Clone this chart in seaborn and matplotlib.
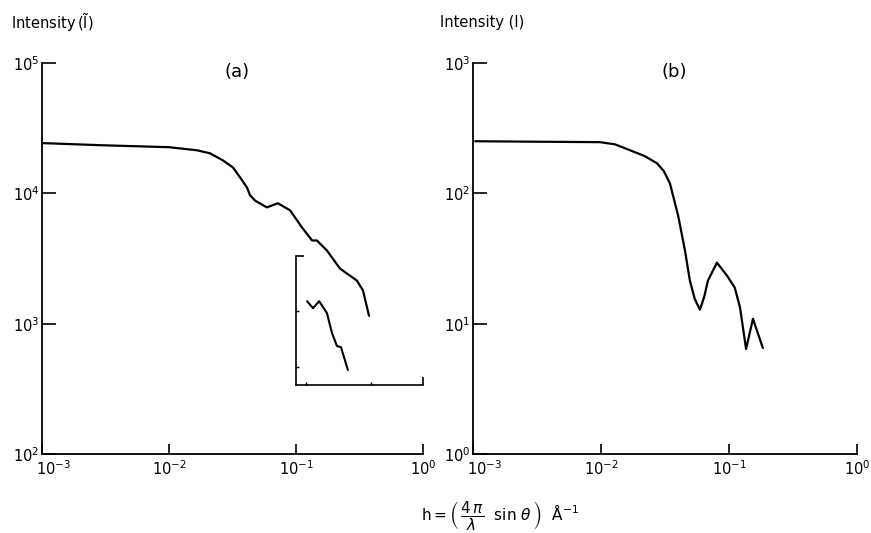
import matplotlib
matplotlib.use("Agg")
import matplotlib.pyplot as plt
import matplotlib.ticker as mticker
import matplotlib.transforms as mtransforms
import pandas as pd
import seaborn as sns

# Panel (a): Intensity (I tilde) vs h
h_a = [1.0e-3, 2.9e-3, 1.0e-2, 1.66e-2, 2.1e-2, 2.66e-2, 3.19e-2, 3.62e-2,
       4.11e-2, 4.34e-2, 4.76e-2, 5.9e-2, 7.2e-2, 9.0e-2, 0.1115, 0.134,
       0.146, 0.175, 0.222, 0.302, 0.337, 0.376]
i_a = [2.43e4, 2.34e4, 2.26e4, 2.14e4, 2.03e4, 1.79e4, 1.58e4, 1.33e4,
       1.11e4, 9.7e3, 8.8e3, 7.8e3, 8.4e3, 7.4e3, 5.47e3, 4.35e3,
       4.35e3, 3.65e3, 2.65e3, 2.14e3, 1.80e3, 1.15e3]

# inset of panel (a) (own log axes: x 0.1..1, y 1..10)
h_in = [0.122, 0.136, 0.152, 0.175, 0.192, 0.210, 0.226, 0.256]
i_in = [4.48, 3.95, 4.48, 3.62, 2.53, 2.01, 1.97, 1.31]

# Panel (b): Intensity (I) vs h
h_b = [1.04e-3, 3.0e-3, 9.8e-3, 1.28e-2, 1.69e-2, 2.2e-2, 2.74e-2, 3.1e-2,
       3.46e-2, 4.0e-2, 4.53e-2, 4.95e-2, 5.4e-2, 5.93e-2, 6.4e-2, 6.85e-2,
       8.05e-2, 9.64e-2, 0.111, 0.122, 0.136, 0.154, 0.184]
i_b = [251, 249, 247, 238, 214, 193, 170, 148,
       119, 68, 36.5, 21.4, 15.5, 12.8, 16.0, 21.4,
       29.4, 23.4, 18.9, 13.3, 6.4, 10.9, 6.5]

x_decades = [1e-3, 1e-2, 1e-1, 1e0]
y_decades_a = [1e2, 1e3, 1e4, 1e5]
y_decades_b = [1e0, 1e1, 1e2, 1e3]

sns.set_theme(style="white")
plt.rcParams["font.family"] = ["DejaVu Sans"]
plt.rcParams["mathtext.fontset"] = "dejavusans"
plt.rcParams["text.color"] = "black"

df_a = pd.DataFrame({"h": h_a, "I": i_a})
df_in = pd.DataFrame({"h": h_in, "I": i_in})
df_b = pd.DataFrame({"h": h_b, "I": i_b})

fig = plt.figure(figsize=(8.71, 5.33), dpi=100)
ax_a = fig.add_axes([0.0482, 0.1482, 0.4374, 0.7336])
ax_b = fig.add_axes([0.5430, 0.1482, 0.4409, 0.7336])


def style_axis(ax, yticks):
    ax.set_xscale("log")
    ax.set_yscale("log")
    ax.set_xlim(x_decades[0], x_decades[-1])
    ax.set_ylim(yticks[0], yticks[-1])
    ax.set_xticks(x_decades)
    ax.set_yticks(yticks)
    ax.xaxis.set_minor_locator(mticker.NullLocator())
    ax.yaxis.set_minor_locator(mticker.NullLocator())
    ax.xaxis.set_major_formatter(mticker.LogFormatterMathtext())
    ax.yaxis.set_major_formatter(mticker.LogFormatterMathtext())
    for side in ["top", "right"]:
        ax.spines[side].set_visible(False)
    for side in ["left", "bottom"]:
        ax.spines[side].set_color("black")
        ax.spines[side].set_linewidth(1.3)
    ax.tick_params(axis="y", direction="in", length=10, width=1.2, left=True,
                   pad=2, labelsize=10.5, colors="black")
    ax.tick_params(axis="x", direction="in", length=7, width=1.2, bottom=True,
                   pad=4, labelsize=10.5, colors="black")
    ax.set_xlabel("")
    ax.set_ylabel("")
    # first x label sits to the right of the corner, as in the original
    first = ax.get_xticklabels()[0]
    first.set_transform(first.get_transform() + mtransforms.ScaledTranslation(
        8 / 72, 0, fig.dpi_scale_trans))


sns.lineplot(data=df_a, x="h", y="I", ax=ax_a, color="black",
             linewidth=1.6, sort=False)
sns.lineplot(data=df_b, x="h", y="I", ax=ax_b, color="black",
             linewidth=1.6, sort=False)
style_axis(ax_a, y_decades_a)
style_axis(ax_b, y_decades_b)

# inset in panel (a)
ax_in = ax_a.inset_axes([0.667, 0.176, 0.333, 0.33])
sns.lineplot(data=df_in, x="h", y="I", ax=ax_in, color="black",
             linewidth=1.5, sort=False)
ax_in.set_xscale("log")
ax_in.set_yscale("log")
ax_in.set_xlim(0.1, 1.0)
ax_in.set_ylim(1, 10)
ax_in.set_facecolor("none")
for side in ["top", "right"]:
    ax_in.spines[side].set_visible(False)
for side in ["left", "bottom"]:
    ax_in.spines[side].set_color("black")
    ax_in.spines[side].set_linewidth(1.2)
ax_in.set_xticks([1.0])
ax_in.set_yticks([10])
ax_in.set_xticks([0.12, 0.39], minor=True)
ax_in.set_yticks([1.38, 3.75], minor=True)
ax_in.tick_params(which="major", direction="in", length=6, width=1.2,
                  bottom=True, left=True,
                  labelbottom=False, labelleft=False, colors="black")
ax_in.tick_params(which="minor", direction="in", length=2.5, width=1.0,
                  bottom=True, left=True,
                  labelbottom=False, labelleft=False, colors="black")
ax_in.set_xlabel("")
ax_in.set_ylabel("")

# texts
fig.text(0.013, 0.958, r"Intensity$\,(\tilde{\mathrm{I}})$", fontsize=10.5,
         ha="left", va="center")
fig.text(0.505, 0.958, r"Intensity (I)", fontsize=10.5, ha="left", va="center")
fig.text(0.272, 0.865, "(a)", fontsize=13, ha="center", va="center")
fig.text(0.774, 0.865, "(b)", fontsize=13, ha="center", va="center")
fig.text(0.574, 0.032,
         r"$\mathrm{h} = \left(\,\dfrac{4\,\pi}{\lambda}\ \ \mathrm{sin}\ \theta\,\right)\ \ \mathrm{\AA}^{-1}$",
         fontsize=11, ha="center", va="center")

fig.savefig("out.png", dpi=100)
